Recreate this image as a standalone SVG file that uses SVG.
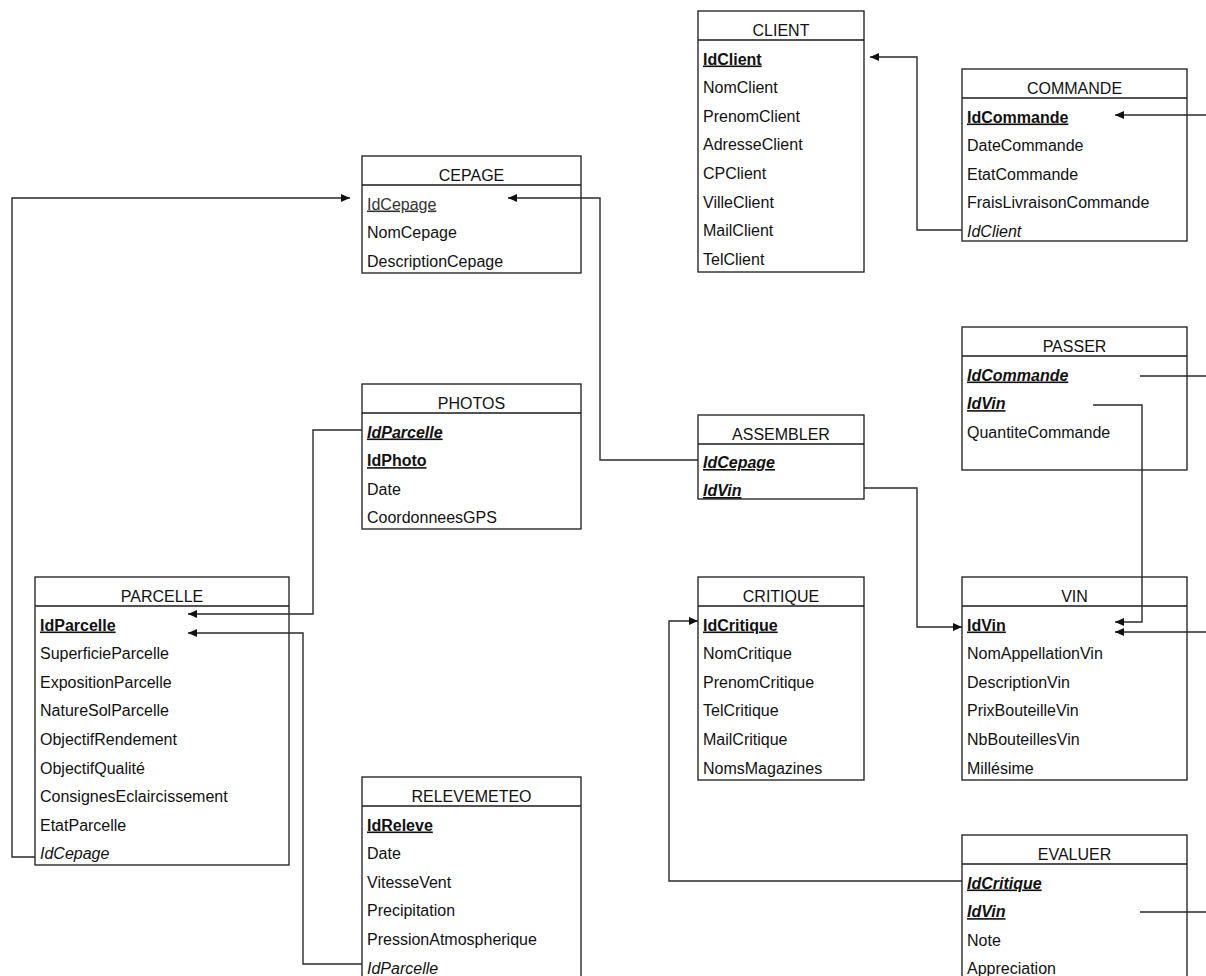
<svg xmlns="http://www.w3.org/2000/svg" width="1206" height="976" viewBox="0 0 1206 976">
<style>
.box{fill:#fff;stroke:#1a1a1a;stroke-width:1.3}
.hl{stroke:#1a1a1a;stroke-width:1.3}
text{font-family:"Liberation Sans",Arial,sans-serif;font-size:16px;fill:#111}
.title{text-anchor:middle}
.pk{font-weight:bold;text-decoration:underline}
.pkfk{font-weight:bold;font-style:italic;text-decoration:underline}
.fk{font-style:italic}
.ul{text-decoration:underline;fill:#333}
.conn path{fill:none;stroke:#2a2a2a;stroke-width:1.4}
</style>
<defs>
<marker id="arr" markerUnits="userSpaceOnUse" markerWidth="10" markerHeight="8" refX="9" refY="4" orient="auto">
<path d="M0,0 L9,4 L0,8 Z" fill="#111"/>
</marker>
</defs>
<rect width="1206" height="976" fill="#fff"/>

<g id="CLIENT">
<rect class="box" x="698" y="11" width="166" height="261"/>
<line class="hl" x1="698" y1="40" x2="864" y2="40"/>
<text class="title" x="781" y="35.5">CLIENT</text>
<text class="pk" x="703" y="64.5">IdClient</text>
<text x="703" y="93.1">NomClient</text>
<text x="703" y="121.7">PrenomClient</text>
<text x="703" y="150.3">AdresseClient</text>
<text x="703" y="178.9">CPClient</text>
<text x="703" y="207.5">VilleClient</text>
<text x="703" y="236.1">MailClient</text>
<text x="703" y="264.7">TelClient</text>
</g>

<g id="COMMANDE">
<rect class="box" x="962" y="69" width="225" height="172"/>
<line class="hl" x1="962" y1="98" x2="1187" y2="98"/>
<text class="title" x="1074.5" y="93.5">COMMANDE</text>
<text class="pk" x="967" y="122.5">IdCommande</text>
<text x="967" y="151.1">DateCommande</text>
<text x="967" y="179.7">EtatCommande</text>
<text x="967" y="208.3">FraisLivraisonCommande</text>
<text class="fk" x="967" y="236.9">IdClient</text>
</g>

<g id="CEPAGE">
<rect class="box" x="362" y="156" width="219" height="117"/>
<line class="hl" x1="362" y1="185" x2="581" y2="185"/>
<text class="title" x="471.5" y="180.5">CEPAGE</text>
<text class="ul" x="367" y="209.5">IdCepage</text>
<text x="367" y="238.1">NomCepage</text>
<text x="367" y="266.7">DescriptionCepage</text>
</g>

<g id="PHOTOS">
<rect class="box" x="362" y="384" width="219" height="145"/>
<line class="hl" x1="362" y1="413" x2="581" y2="413"/>
<text class="title" x="471.5" y="408.5">PHOTOS</text>
<text class="pkfk" x="367" y="437.5">IdParcelle</text>
<text class="pk" x="367" y="466.1">IdPhoto</text>
<text x="367" y="494.7">Date</text>
<text x="367" y="523.3">CoordonneesGPS</text>
</g>

<g id="ASSEMBLER">
<rect class="box" x="698" y="415" width="166" height="84"/>
<line class="hl" x1="698" y1="444" x2="864" y2="444"/>
<text class="title" x="781" y="439.5">ASSEMBLER</text>
<text class="pkfk" x="703" y="468">IdCepage</text>
<text class="pkfk" x="703" y="496">IdVin</text>
</g>

<g id="PASSER">
<rect class="box" x="962" y="327" width="225" height="143"/>
<line class="hl" x1="962" y1="356" x2="1187" y2="356"/>
<text class="title" x="1074.5" y="351.5">PASSER</text>
<text class="pkfk" x="967" y="380.5">IdCommande</text>
<text class="pkfk" x="967" y="409.1">IdVin</text>
<text x="967" y="437.7">QuantiteCommande</text>
</g>

<g id="PARCELLE">
<rect class="box" x="35" y="577" width="254" height="288"/>
<line class="hl" x1="35" y1="606" x2="289" y2="606"/>
<text class="title" x="162" y="601.5">PARCELLE</text>
<text class="pk" x="40" y="630.5">IdParcelle</text>
<text x="40" y="659.1">SuperficieParcelle</text>
<text x="40" y="687.7">ExpositionParcelle</text>
<text x="40" y="716.3">NatureSolParcelle</text>
<text x="40" y="744.9">ObjectifRendement</text>
<text x="40" y="773.5">ObjectifQualité</text>
<text x="40" y="802.1">ConsignesEclaircissement</text>
<text x="40" y="830.7">EtatParcelle</text>
<text class="fk" x="40" y="859.3">IdCepage</text>
</g>

<g id="CRITIQUE">
<rect class="box" x="698" y="577" width="166" height="203"/>
<line class="hl" x1="698" y1="606" x2="864" y2="606"/>
<text class="title" x="781" y="601.5">CRITIQUE</text>
<text class="pk" x="703" y="630.5">IdCritique</text>
<text x="703" y="659.1">NomCritique</text>
<text x="703" y="687.7">PrenomCritique</text>
<text x="703" y="716.3">TelCritique</text>
<text x="703" y="744.9">MailCritique</text>
<text x="703" y="773.5">NomsMagazines</text>
</g>

<g id="VIN">
<rect class="box" x="962" y="577" width="225" height="203"/>
<line class="hl" x1="962" y1="606" x2="1187" y2="606"/>
<text class="title" x="1074.5" y="601.5">VIN</text>
<text class="pk" x="967" y="630.5">IdVin</text>
<text x="967" y="659.1">NomAppellationVin</text>
<text x="967" y="687.7">DescriptionVin</text>
<text x="967" y="716.3">PrixBouteilleVin</text>
<text x="967" y="744.9">NbBouteillesVin</text>
<text x="967" y="773.5">Millésime</text>
</g>

<g id="RELEVEMETEO">
<rect class="box" x="362" y="777" width="219" height="210"/>
<line class="hl" x1="362" y1="806" x2="581" y2="806"/>
<text class="title" x="471.5" y="801.5">RELEVEMETEO</text>
<text class="pk" x="367" y="830.5">IdReleve</text>
<text x="367" y="859.1">Date</text>
<text x="367" y="887.7">VitesseVent</text>
<text x="367" y="916.3">Precipitation</text>
<text x="367" y="944.9">PressionAtmospherique</text>
<text class="fk" x="367" y="973.5">IdParcelle</text>
</g>

<g id="EVALUER">
<rect class="box" x="962" y="835" width="225" height="152"/>
<line class="hl" x1="962" y1="864" x2="1187" y2="864"/>
<text class="title" x="1074.5" y="859.5">EVALUER</text>
<text class="pkfk" x="967" y="888.5">IdCritique</text>
<text class="pkfk" x="967" y="917.1">IdVin</text>
<text x="967" y="945.7">Note</text>
<text x="967" y="974.3">Appreciation</text>
</g>

<g id="connectors" class="conn">
<path d="M962,230 H917 V57 H870" marker-end="url(#arr)"/>
<path d="M1140,376 H1216 V115 H1115" marker-end="url(#arr)"/>
<path d="M1093,405 H1142 V622 H1115" marker-end="url(#arr)"/>
<path d="M1140,912 H1216 V632 H1115" marker-end="url(#arr)"/>
<path d="M864,488 H917 V627 H962" marker-end="url(#arr)"/>
<path d="M698,460 H600 V198 H508" marker-end="url(#arr)"/>
<path d="M35,857 H12 V198 H350" marker-end="url(#arr)"/>
<path d="M362,430 H313 V614 H188" marker-end="url(#arr)"/>
<path d="M362,964 H303 V633 H188" marker-end="url(#arr)"/>
<path d="M962,881 H669 V621 H698" marker-end="url(#arr)"/>
</g>
</svg>
